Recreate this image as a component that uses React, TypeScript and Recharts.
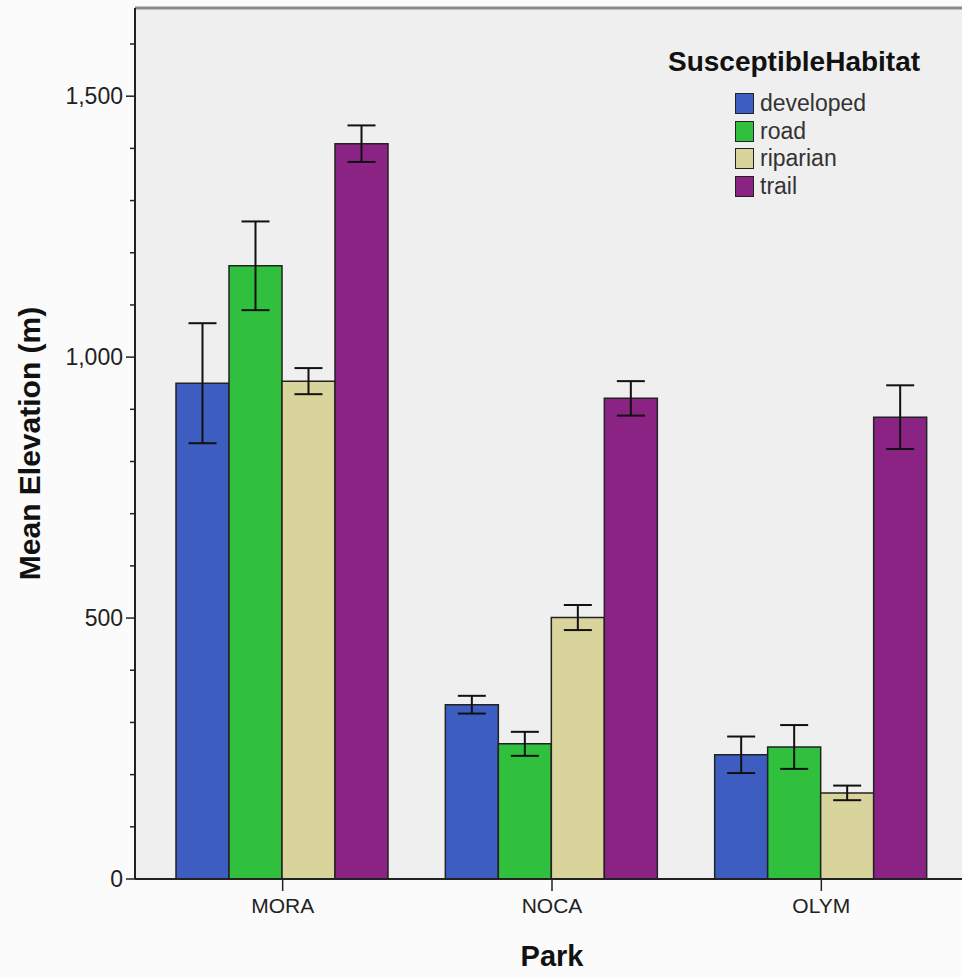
import React from 'react';
import { BarChart, Bar, XAxis, YAxis, ErrorBar, CartesianGrid, ReferenceLine, Label } from 'recharts';

const parks = ['MORA', 'NOCA', 'OLYM'];
const seriesNames = ['developed', 'road', 'riparian', 'trail'];
const seriesColors = ['#3d5ec0', '#31c03e', '#d9d49c', '#8a2384'];
const legendTitle = 'SusceptibleHabitat';

const developed = [950, 334, 238];
const developedErr = [115, 17, 35];
const road = [1175, 259, 253];
const roadErr = [85, 23, 42];
const riparian = [954, 501, 165];
const riparianErr = [25, 24, 14];
const trail = [1409, 921, 885];
const trailErr = [35, 33, 61];

const yTicks = [0, 100, 200, 300, 400, 500, 600, 700, 800, 900, 1000, 1100, 1200, 1300, 1400, 1500, 1600];
const yMax = 1669;

const values = [developed, road, riparian, trail];
const errors = [developedErr, roadErr, riparianErr, trailErr];

const data = parks.map((p, i) => {
  const row: any = { park: p };
  seriesNames.forEach((s, k) => {
    row[s] = values[k][i];
    row[s + 'Err'] = errors[k][i];
  });
  return row;
});

const FONT = '"Liberation Sans", Arial, sans-serif';

const YTick = (props: any) => {
  const { x, y, payload } = props;
  const v = payload.value;
  const major = v % 500 === 0;
  return (
    <g>
      <line x1={x - (major ? 9 : 5)} x2={x} y1={y} y2={y} stroke="#222" strokeWidth={1.5} />
      {major && (
        <text x={x - 12} y={y} textAnchor="end" dominantBaseline="central" fontFamily={FONT} fontSize={23} fill="#222">
          {v.toLocaleString('en-US')}
        </text>
      )}
    </g>
  );
};

const XTick = (props: any) => {
  const { x, y, payload } = props;
  return (
    <text x={x} y={y} textAnchor="middle" dominantBaseline="hanging" fontFamily={FONT} fontSize={21} fill="#222">
      {payload.value}
    </text>
  );
};

const LegendBox = () => (
  <div style={{ position: 'absolute', left: 668, top: 46, width: 290, fontFamily: FONT, color: '#111' }}>
    <div style={{ fontWeight: 'bold', fontSize: 28, lineHeight: '32px', marginBottom: 12, whiteSpace: 'nowrap' }}>{legendTitle}</div>
    {seriesNames.map((s, k) => (
      <div key={s} style={{ display: 'flex', alignItems: 'center', height: 27.5, marginLeft: 67 }}>
        <div style={{ width: 19, height: 21, background: seriesColors[k], border: '1.5px solid #222', boxSizing: 'border-box', marginRight: 6 }} />
        <span style={{ fontSize: 23, color: '#333' }}>{s}</span>
      </div>
    ))}
  </div>
);

export default function App() {
  return (
    <div style={{ position: 'absolute', left: 0, top: 0, width: 962, height: 977, overflow: 'hidden', background: '#fbfbfb' }}>
      <BarChart
        width={975}
        height={977}
        data={data}
        margin={{ top: 8, right: 6, bottom: 0, left: 0 }}
        barCategoryGap={28}
        barGap={0}
      >
        <CartesianGrid fill="#efefef" horizontal={false} vertical={false} />
        <XAxis
          dataKey="park"
          height={98}
          padding={{ left: 13, right: 13 }}
          tickSize={12}
          tickMargin={7}
          tick={<XTick />}
          axisLine={{ stroke: '#222', strokeWidth: 2 }}
          tickLine={{ stroke: '#222', strokeWidth: 1.5 }}
        >
          <Label value="Park" position="insideBottom" offset={11} style={{ fontFamily: FONT, fontSize: 29, fontWeight: 'bold', fill: '#111' }} />
        </XAxis>
        <YAxis
          width={135}
          domain={[0, yMax]}
          ticks={yTicks}
          interval={0}
          tickSize={0}
          tickMargin={0}
          tick={<YTick />}
          tickLine={false}
          axisLine={{ stroke: '#222', strokeWidth: 2 }}
          allowDataOverflow
        >
          <Label
            value="Mean Elevation (m)"
            angle={-90}
            position="insideLeft"
            offset={29}
            style={{ fontFamily: FONT, fontSize: 30, fontWeight: 'bold', fill: '#111', textAnchor: 'middle' }}
          />
        </YAxis>
        <ReferenceLine y={yMax} stroke="#8a8a8a" strokeWidth={3} />
        {seriesNames.map((s, k) => (
          <Bar key={s} dataKey={s} fill={seriesColors[k]} stroke="#222" strokeWidth={1.5} isAnimationActive={false}>
            <ErrorBar dataKey={s + 'Err'} width={14} stroke="#111" strokeWidth={2} direction="y" />
          </Bar>
        ))}
      </BarChart>
      <LegendBox />
    </div>
  );
}
